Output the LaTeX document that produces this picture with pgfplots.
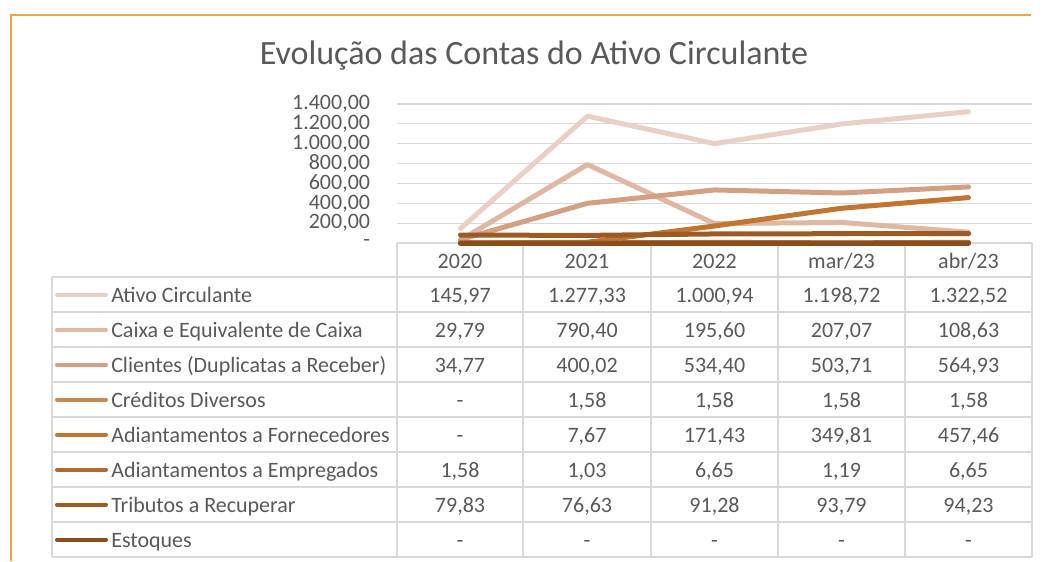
\documentclass[border=0pt]{standalone}
\usepackage{pgfplots}
\pgfplotsset{compat=1.18}
\usepackage{fontspec}
\setmainfont{Carlito}
\definecolor{txt}{HTML}{595959}
\definecolor{gridgrey}{HTML}{D9D9D9}
\definecolor{frame}{HTML}{F5A33A}
\definecolor{ca}{HTML}{E9CFC4}
\definecolor{cb}{HTML}{DFB8A3}
\definecolor{cc}{HTML}{D4A083}
\definecolor{cd}{HTML}{C98751}
\definecolor{ce}{HTML}{C07530}
\definecolor{cf}{HTML}{B2692A}
\definecolor{cg}{HTML}{9C5B25}
\definecolor{ch}{HTML}{8A4E1E}
\newcommand{\tf}{\fontsize{16.5}{19}\selectfont}
\begin{document}
\begin{tikzpicture}
\begin{scope}[x=0.75pt,y=-0.75pt]
\path[use as bounding box] (0,0) rectangle (1043,561);
\draw[frame, line width=1.1pt] (11,561) -- (11,15) -- (1031,15);
\node[anchor=base, text=txt, font=\fontsize{25.5}{30}\selectfont, inner sep=0pt] at (534,64) {Evolução das Contas do Ativo Circulante};
% table grid
\foreach \yy in {277,312,347,382,417,452,487,522,557} \draw[gridgrey, line width=0.9pt] (52,\yy) -- (1032,\yy);
\draw[gridgrey, line width=0.9pt] (52,277) -- (52,557);
\foreach \xx in {397,523,651,778,905,1032} \draw[gridgrey, line width=0.9pt] (\xx,243) -- (\xx,557);
% header
\foreach \xx/\lab in {460/2020,587/2021,714.5/2022,841.5/mar\slash 23,968.5/abr\slash 23}
  \node[anchor=base, text=txt, font=\tf, inner sep=0pt] at (\xx,268) {\lab};
% rows
\foreach \r/\col/\name/\va/\vb/\vc/\vd/\ve in {
  0/ca/Ativo Circulante/{145,97}/{1.277,33}/{1.000,94}/{1.198,72}/{1.322,52},
  1/cb/Caixa e Equivalente de Caixa/{29,79}/{790,40}/{195,60}/{207,07}/{108,63},
  2/cc/Clientes (Duplicatas a Receber)/{34,77}/{400,02}/{534,40}/{503,71}/{564,93},
  3/cd/Créditos Diversos/-/{1,58}/{1,58}/{1,58}/{1,58},
  4/ce/Adiantamentos a Fornecedores/-/{7,67}/{171,43}/{349,81}/{457,46},
  5/cf/Adiantamentos a Empregados/{1,58}/{1,03}/{6,65}/{1,19}/{6,65},
  6/cg/Tributos a Recuperar/{79,83}/{76,63}/{91,28}/{93,79}/{94,23},
  7/ch/Estoques/-/-/-/-/-}{
  \pgfmathsetmacro{\yc}{294.5+35*\r}
  \pgfmathsetmacro{\yb}{\yc+7.5}
  \draw[\col, line width=3pt, line cap=round] (57,\yc) -- (106,\yc);
  \node[anchor=base west, text=txt, font=\tf, inner sep=0pt] at (111,\yb) {\name};
  \node[anchor=base, text=txt, font=\tf, inner sep=0pt] at (460,\yb) {\va};
  \node[anchor=base, text=txt, font=\tf, inner sep=0pt] at (587,\yb) {\vb};
  \node[anchor=base, text=txt, font=\tf, inner sep=0pt] at (714.5,\yb) {\vc};
  \node[anchor=base, text=txt, font=\tf, inner sep=0pt] at (841.5,\yb) {\vd};
  \node[anchor=base, text=txt, font=\tf, inner sep=0pt] at (968.5,\yb) {\ve};
}
\end{scope}
\begin{axis}[
  at={(297.75pt,-182.25pt)}, anchor=south west,
  scale only axis, width=476.25pt, height=104.25pt,
  xmin=-0.5, xmax=4.5, ymin=0, ymax=1400,
  axis line style={draw=none},
  xtick=\empty,
  ytick={0,200,400,600,800,1000,1200,1400},
  yticklabels={{-},{200,00},{400,00},{600,00},{800,00},{1.000,00},{1.200,00},{1.400,00}},
  ymajorgrids, grid style={gridgrey, line width=0.9pt},
  major tick length=0pt,
  yticklabel style={inner sep=0pt, xshift=-20pt, text=txt, font=\tf},
  clip=false,
  every axis plot/.append style={line width=3.75pt, line join=round, line cap=round, mark=none},
]
\addplot[ca] coordinates {(0,145.97) (1,1277.33) (2,1000.94) (3,1198.72) (4,1322.52)};
\addplot[cb] coordinates {(0,29.79) (1,790.40) (2,195.60) (3,207.07) (4,108.63)};
\addplot[cc] coordinates {(0,34.77) (1,400.02) (2,534.40) (3,503.71) (4,564.93)};
\addplot[cd] coordinates {(0,0) (1,1.58) (2,1.58) (3,1.58) (4,1.58)};
\addplot[ce] coordinates {(0,0) (1,7.67) (2,171.43) (3,349.81) (4,457.46)};
\addplot[cf] coordinates {(0,1.58) (1,1.03) (2,6.65) (3,1.19) (4,6.65)};
\addplot[cg] coordinates {(0,79.83) (1,76.63) (2,91.28) (3,93.79) (4,94.23)};
\addplot[ch] coordinates {(0,0) (1,0) (2,0) (3,0) (4,0)};
\end{axis}
\end{tikzpicture}
\end{document}
